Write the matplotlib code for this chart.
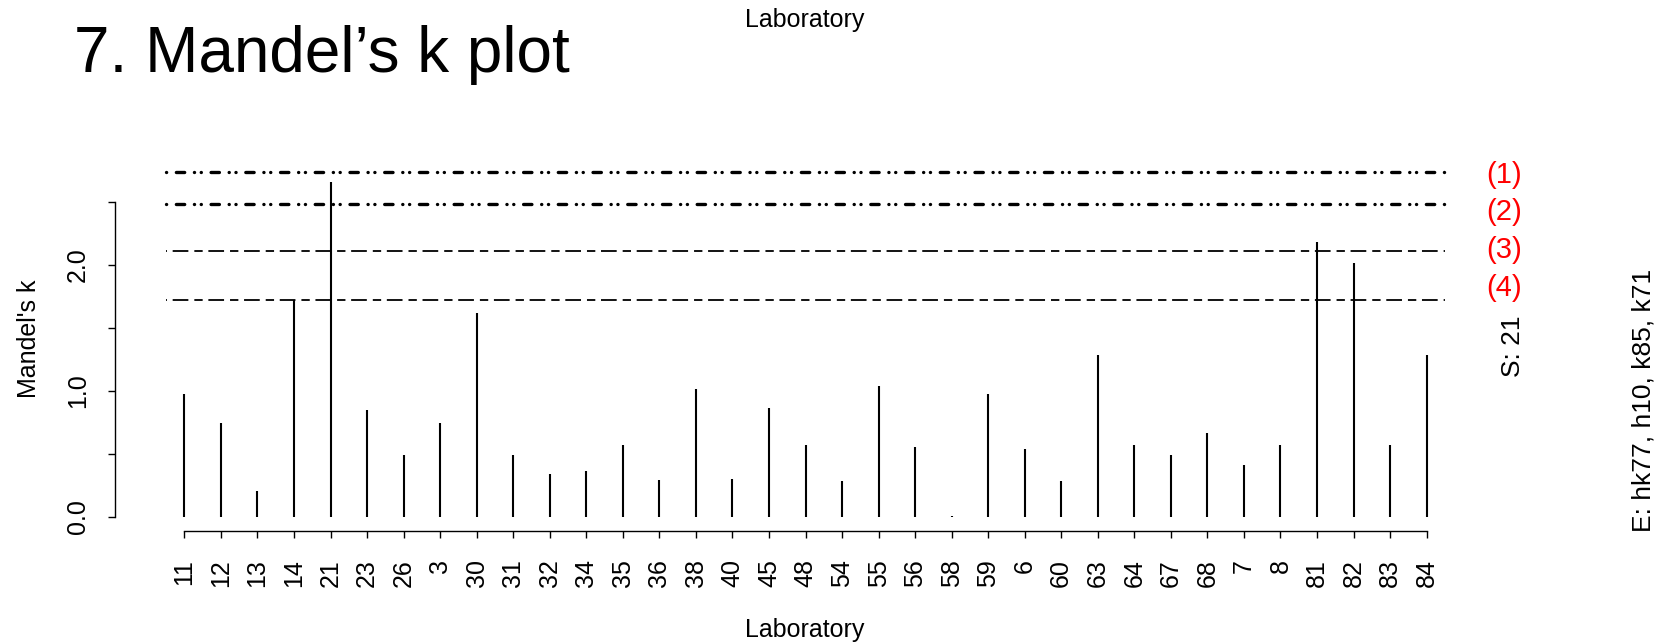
import matplotlib
matplotlib.use("Agg")
import matplotlib.pyplot as plt
import matplotlib.transforms as mtransforms

plt.rcParams["font.family"] = ["Liberation Sans", "DejaVu Sans"]
plt.rcParams["lines.scale_dashes"] = False

# laboratories in plotting order and their Mandel's k values
labs = ["11", "12", "13", "14", "21", "23", "26", "3", "30", "31", "32", "34",
        "35", "36", "38", "40", "45", "48", "54", "55", "56", "58", "59", "6",
        "60", "63", "64", "67", "68", "7", "8", "81", "82", "83", "84"]
k_values = [0.971, 0.743, 0.204, 1.720, 2.659, 0.844, 0.489, 0.743, 1.619,
            0.489, 0.339, 0.362, 0.566, 0.291, 1.011, 0.302, 0.860, 0.566,
            0.286, 1.040, 0.550, 0.006, 0.971, 0.540, 0.286, 1.283, 0.566,
            0.489, 0.667, 0.413, 0.566, 2.180, 2.011, 0.566, 1.283]

# critical values
limits = [2.735, 2.484, 2.114, 1.725]
limit_labels = ["(1)", "(2)", "(3)", "(4)"]

y_ticks = [0.0, 0.5, 1.0, 1.5, 2.0, 2.5]
y_tick_labels = ["0.0", "", "1.0", "", "2.0", ""]

straggler_text = "S: 21"
extra_text = "E: hk77, h10, k85, k71"

W, H = 1657, 643
fig = plt.figure(figsize=(W / 100, H / 100), dpi=100)
ax = fig.add_axes([115 / W, 1 - 530.5 / H, (1496 - 115) / W, (530.5 - 158.6) / H])

n = len(labs)
pos = list(range(1, n + 1))

ax.vlines(pos, 0, k_values, color="black", lw=1.5)

dotdash = (17.9, (6.0, 7.0, 0.1, 4.8, 0.1, 7.0))
dashed = (5.3, (6.0, 4.1, 11.3, 4.3))
for i, lim in enumerate(limits):
    if i < 2:
        ax.plot([0.5, n + 0.5], [lim, lim], color="black", lw=2.4,
                linestyle=dotdash, dash_capstyle="round")
    else:
        ax.plot([0.5, n + 0.5], [lim, lim], color="black", lw=1.3,
                linestyle=dashed)

trans = mtransforms.blended_transform_factory(ax.transAxes, ax.transData)
for i, lab in enumerate(limit_labels):
    ax.text(1.0058, limits[0] - 0.02 - i * 0.299, lab, color="red", fontsize=21,
            ha="center", va="center", transform=trans)

ax.set_xlim(-0.9, n + 1.9)
ax.set_ylim(-0.1094, 2.844)

for s in ["top", "right"]:
    ax.spines[s].set_visible(False)
ax.spines["left"].set_bounds(0, 2.5)
ax.spines["bottom"].set_bounds(1, n)
ax.spines["left"].set_linewidth(1.0)
ax.spines["bottom"].set_linewidth(1.0)

ax.set_xticks(pos)
ax.set_xticklabels(labs, rotation=90, ha="center", va="top")
ax.set_yticks(y_ticks)
ax.set_yticklabels(y_tick_labels, rotation=90, va="center")
ax.tick_params(axis="x", length=5, width=1.0, pad=15.8, labelsize=18)
ax.tick_params(axis="y", length=5, width=1.0, pad=13, labelsize=18)

fig.text(29 / W, 1 - 339 / H, "Mandel's k", rotation=90, fontsize=18,
         ha="center", va="center")
fig.text(805 / W, 1 - 637 / H, "Laboratory", fontsize=18, ha="center", va="baseline")
fig.text(805 / W, 1 - 27 / H, "Laboratory", fontsize=18, ha="center", va="baseline")
fig.text(74 / W, 1 - 72 / H, "7. Mandel\u2019s k plot", fontsize=46, ha="left",
         va="baseline")
fig.text(1513 / W, 1 - 346 / H, straggler_text, rotation=90, fontsize=19,
         ha="center", va="center")
fig.text(1643 / W, 1 - 400 / H, extra_text, rotation=90, fontsize=19,
         ha="center", va="center")

fig.savefig("out.png", dpi=100)
